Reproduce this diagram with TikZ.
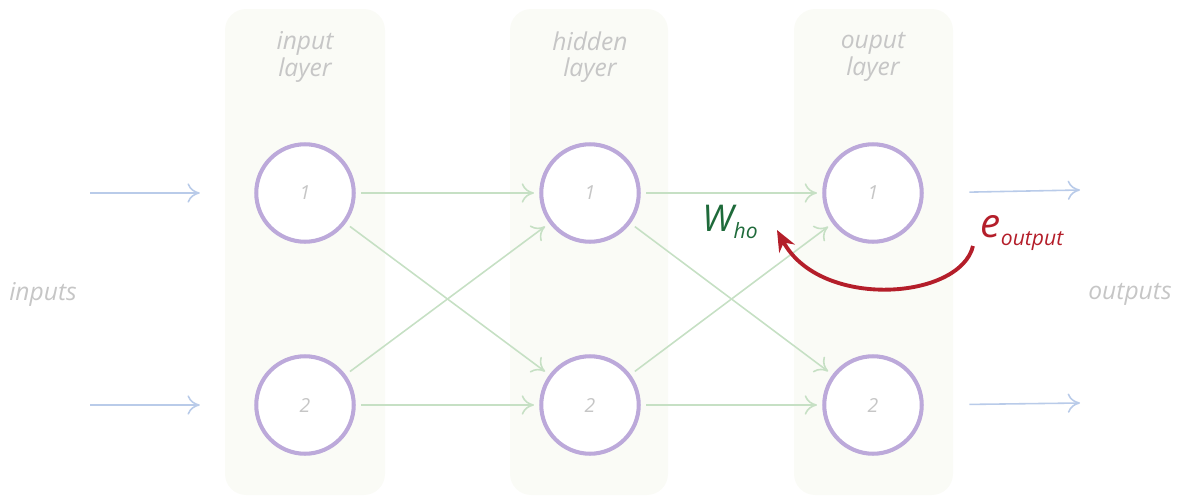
\documentclass[tikz,border=0pt]{standalone}
\usepackage{fontspec}
\setmainfont{Open Sans}
\usetikzlibrary{arrows.meta}
\definecolor{boxfill}{HTML}{FAFBF6}
\definecolor{ring}{HTML}{BCA9DA}
\definecolor{lgreen}{HTML}{C6E0C4}
\definecolor{lblue}{HTML}{B9CBE9}
\definecolor{ltext}{HTML}{C6C6C6}
\definecolor{dred}{HTML}{B41E2A}
\definecolor{dgreen}{HTML}{1E6A3A}
\tikzset{
  layerbox/.style={fill=boxfill, draw=none, rounded corners=12pt},
  neuron/.style={circle, draw=ring, line width=2.3pt, fill=white, minimum size=1.95cm, inner sep=0pt,
    font=\itshape\fontsize{11}{13}\selectfont, text=ltext},
  title/.style={font=\itshape\fontsize{14}{16}\selectfont, text=ltext, align=center},
  conn/.style={draw=lgreen, line width=0.9pt, -{To[length=7pt,width=11pt]}, shorten >=3pt, shorten <=3pt},
  ioarrow/.style={draw=lblue, line width=0.9pt, -{To[length=7pt,width=11pt]}},
  errarrow/.style={draw=dred, line width=2.2pt, -{Stealth[length=12pt,width=10pt]}}
}
\begin{document}
\begin{tikzpicture}[x=0.02cm,y=-0.02cm]
\useasboundingbox (0,0) rectangle (1181,498);
% layer boxes
\fill[layerbox] (225,9) rectangle (385,495);
\fill[layerbox] (510,9) rectangle (668,495);
\fill[layerbox] (794,9) rectangle (953,495);
\node[title] (tin) at (305,57) {input\\[-1pt]layer};
\node[title] (thid) at (590,57) {hidden\\[-1pt]layer};
\node[title] (tout) at (873,57) {ouput\\[-1pt]layer};
% neurons
\node[neuron] (i1) at (305,193) {1};
\node[neuron] (i2) at (305,405) {2};
\node[neuron] (h1) at (590,193) {1};
\node[neuron] (h2) at (590,405) {2};
\node[neuron] (o1) at (873,193) {1};
\node[neuron] (o2) at (873,405) {2};
% connections
\draw[conn] (i1) -- (h1);
\draw[conn] (i1) -- (h2);
\draw[conn] (i2) -- (h1);
\draw[conn] (i2) -- (h2);
\draw[conn] (h1) -- (o1);
\draw[conn] (h1) -- (o2);
\draw[conn] (h2) -- (o1);
\draw[conn] (h2) -- (o2);
% inputs / outputs
\coordinate (a1) at (90,193);
\coordinate (a2) at (90,405);
\coordinate (b1) at (1080,190);
\coordinate (b2) at (1080,403);
\draw[ioarrow, shorten >=31pt] (a1) -- (i1.west);
\draw[ioarrow, shorten >=31pt] (a2) -- (i2.west);
\draw[ioarrow, shorten <=26pt] (o1.east) -- (b1);
\draw[ioarrow, shorten <=26pt] (o2.east) -- (b2);
\node[font=\itshape\fontsize{14}{16}\selectfont, text=ltext] (inl) at (43,294) {inputs};
\node[font=\itshape\fontsize{14}{16}\selectfont, text=ltext] (outl) at (1130,294) {outputs};
% labels
\node[text=dgreen, font=\itshape\fontsize{21}{24}\selectfont, inner sep=1pt] (w) at (730,222) {W\raisebox{-4pt}{\fontsize{12}{14}\selectfont ho}};
\node[text=dred, font=\itshape\fontsize{23}{26}\selectfont, inner sep=1pt] (e) at (1022,233) {e\raisebox{-5pt}{\fontsize{12}{14}\selectfont output}};
\coordinate (es) at (973,246);
\coordinate (wt) at (777,230);
\draw[errarrow] (es) .. controls (960,300) and (820,310) .. (wt);
\end{tikzpicture}
\end{document}
